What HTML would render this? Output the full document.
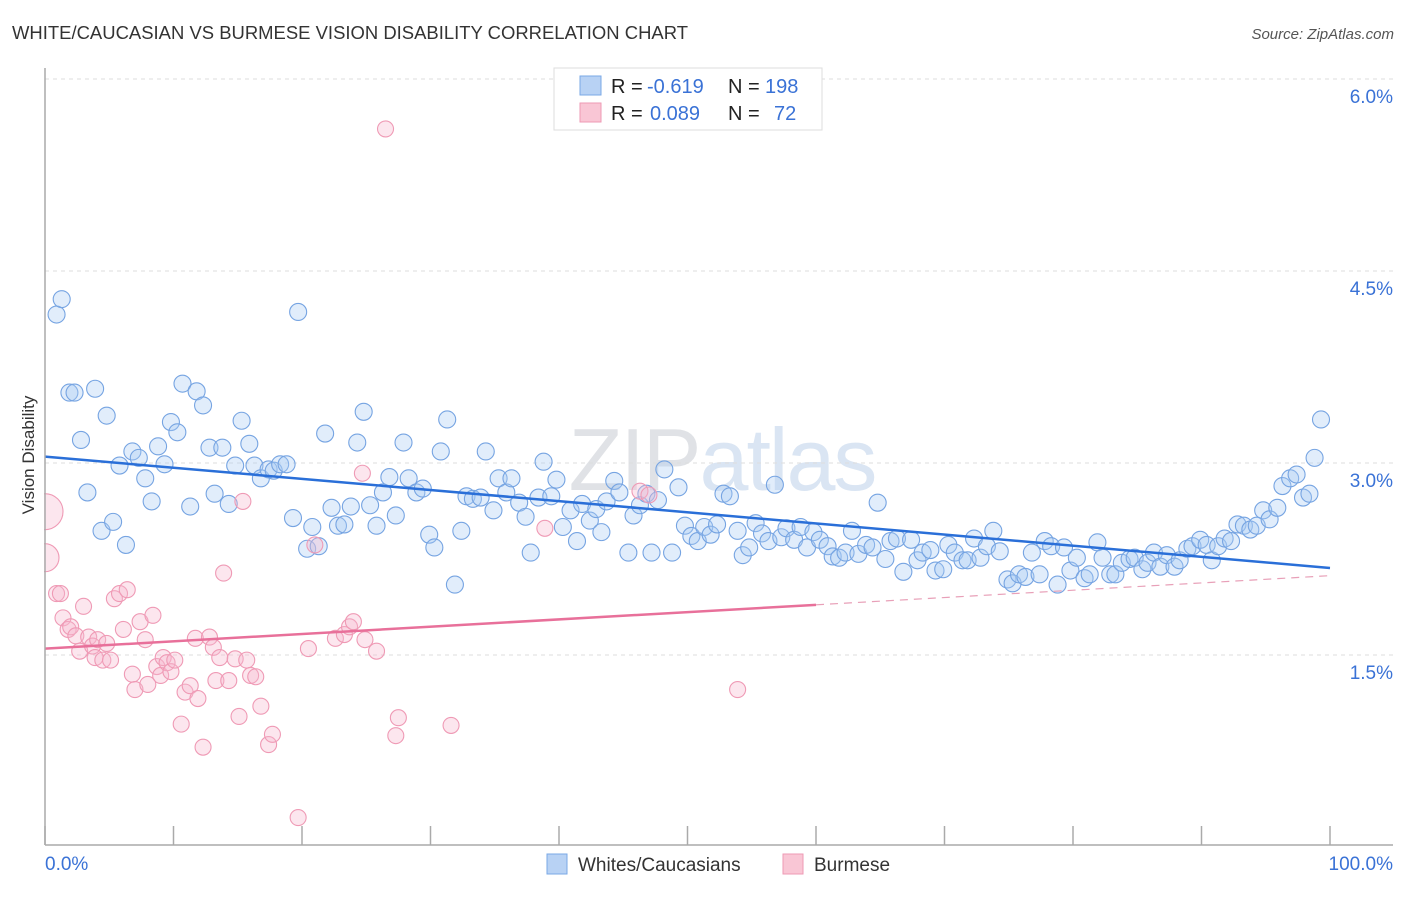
<!DOCTYPE html>
<html><head><meta charset="utf-8"><style>
body{margin:0;background:#fff;font-family:"Liberation Sans",sans-serif;}
svg text{font-family:"Liberation Sans",sans-serif;}
</style></head><body>
<svg id="chart" width="1406" height="892" xmlns="http://www.w3.org/2000/svg">
<text x="12" y="39" font-size="18" fill="#333" textLength="676" lengthAdjust="spacingAndGlyphs">WHITE/CAUCASIAN VS BURMESE VISION DISABILITY CORRELATION CHART</text>
<text x="1394" y="39" font-size="15" fill="#555" text-anchor="end" font-style="italic">Source: ZipAtlas.com</text>
<text x="722" y="490" font-size="88" fill="#e4e8ee" text-anchor="middle" font-family="Liberation Serif" letter-spacing="-2"><tspan fill="#e0e2e6">ZIP</tspan><tspan fill="#dae5f3" font-family="Liberation Sans">atlas</tspan></text>
<g id="grid"></g>
<g id="marks"></g>
<rect x="0" y="60" width="44" height="790" fill="#fff"/>
<g id="axes"></g>
<text transform="translate(34,455) rotate(-90)" font-size="17" fill="#333" text-anchor="middle">Vision Disability</text>
<g>
<rect x="554" y="68" width="268" height="62" fill="#fff" stroke="#ddd"/>
<rect x="580" y="76" width="21" height="19" fill="#b8d2f4" stroke="#7aa8e6"/>
<rect x="580" y="103" width="21" height="19" fill="#f9c6d5" stroke="#ee9ab4"/>
<text y="93" font-size="20" fill="#222"><tspan x="611">R =</tspan><tspan x="647" fill="#3a72d6">-0.619</tspan><tspan x="728">N =</tspan><tspan x="765" fill="#3a72d6">198</tspan></text>
<text y="120" font-size="20" fill="#222"><tspan x="611">R =</tspan><tspan x="650" fill="#3a72d6">0.089</tspan><tspan x="728">N =</tspan><tspan x="774" fill="#3a72d6">72</tspan></text>
</g>
<g>
<rect x="547" y="854" width="20" height="20" fill="#b8d2f4" stroke="#7aa8e6"/>
<text x="578" y="871" font-size="19" fill="#333">Whites/Caucasians</text>
<rect x="783" y="854" width="20" height="20" fill="#f9c6d5" stroke="#ee9ab4"/>
<text x="814" y="871" font-size="19" fill="#333">Burmese</text>
</g>
</svg>
<script>
const yTicks=[1.5,3.0,4.5,6.0];
const yTickLabels=["1.5%","3.0%","4.5%","6.0%"];
const xTicks=[0,10,20,30,40,50,60,70,80,90,100];
const blueX=[0.9,1.3,1.9,2.3,3.9,2.8,3.3,4.4,4.8,5.3,5.8,6.3,6.8,7.3,7.8,8.3,8.8,9.3,9.8,10.3,10.7,11.3,11.8,12.3,12.8,13.2,13.8,14.3,14.8,15.3,15.9,16.3,16.8,17.4,17.8,18.3,18.8,19.3,19.7,20.4,20.8,21.3,21.8,22.3,22.8,23.3,23.8,24.3,24.8,25.3,25.8,26.3,26.8,27.3,27.9,28.3,28.9,29.4,29.9,30.3,30.8,31.3,31.9,32.4,32.8,33.3,33.9,34.3,34.9,35.3,35.9,36.3,36.9,37.4,37.8,38.4,38.8,39.4,39.8,40.3,40.9,41.4,41.8,42.4,42.9,43.3,43.7,44.3,44.7,45.4,45.8,46.3,46.8,47.2,47.7,48.2,48.8,49.3,49.8,50.3,50.8,51.3,51.8,52.3,52.8,53.3,53.9,54.3,54.8,55.3,55.8,56.3,56.8,57.3,57.7,58.3,58.8,59.3,59.8,60.3,60.9,61.3,61.8,62.3,62.8,63.3,63.9,64.4,64.8,65.4,65.8,66.3,66.8,67.4,67.9,68.3,68.9,69.3,69.9,70.3,70.8,71.4,71.8,72.3,72.8,73.3,73.8,74.3,74.9,75.3,75.8,76.3,76.8,77.4,77.8,78.3,78.8,79.3,79.8,80.3,80.9,81.3,81.9,82.3,82.9,83.3,83.8,84.4,84.8,85.4,85.8,86.3,86.8,87.3,87.9,88.3,88.9,89.3,89.9,90.4,90.8,91.3,91.8,92.3,92.8,93.3,93.8,94.3,94.8,95.3,95.9,96.3,96.9,97.4,97.9,98.4,98.8,99.3];
const blueY=[4.16,4.28,3.55,3.55,3.58,3.18,2.77,2.47,3.37,2.54,2.98,2.36,3.09,3.04,2.88,2.70,3.13,2.99,3.32,3.24,3.62,2.66,3.56,3.45,3.12,2.76,3.12,2.68,2.98,3.33,3.15,2.98,2.88,2.95,2.94,2.99,2.99,2.57,4.18,2.33,2.50,2.35,3.23,2.65,2.51,2.52,2.66,3.16,3.40,2.67,2.51,2.77,2.89,2.59,3.16,2.88,2.77,2.80,2.44,2.34,3.09,3.34,2.05,2.47,2.74,2.72,2.73,3.09,2.63,2.88,2.77,2.88,2.69,2.58,2.30,2.73,3.01,2.74,2.87,2.50,2.63,2.39,2.68,2.55,2.64,2.46,2.70,2.86,2.77,2.30,2.59,2.67,2.76,2.30,2.71,2.95,2.30,2.81,2.51,2.43,2.39,2.50,2.44,2.52,2.76,2.74,2.47,2.28,2.34,2.53,2.45,2.39,2.83,2.42,2.49,2.40,2.50,2.34,2.46,2.40,2.35,2.27,2.26,2.30,2.47,2.29,2.36,2.34,2.69,2.25,2.39,2.41,2.15,2.40,2.24,2.30,2.32,2.16,2.17,2.36,2.30,2.24,2.24,2.41,2.26,2.35,2.47,2.31,2.09,2.06,2.13,2.11,2.30,2.13,2.39,2.35,2.05,2.34,2.16,2.26,2.10,2.13,2.38,2.26,2.13,2.13,2.22,2.25,2.26,2.17,2.22,2.30,2.19,2.28,2.19,2.24,2.33,2.35,2.40,2.36,2.24,2.35,2.41,2.39,2.52,2.51,2.48,2.51,2.63,2.56,2.65,2.82,2.88,2.91,2.73,2.76,3.04,3.34];
const pinkX=[26.5,0,0,0.9,1.2,1.4,1.8,2.0,2.4,2.7,3.0,3.4,3.7,3.9,4.1,4.5,4.8,5.1,5.4,5.8,6.1,6.4,6.8,7.0,7.4,7.8,8.0,8.4,8.7,9.0,9.2,9.5,9.8,10.1,10.6,10.9,11.3,11.7,11.9,12.3,12.8,13.1,13.3,13.6,13.9,14.3,14.8,15.1,15.4,15.7,16.0,16.4,16.8,17.4,17.7,19.7,20.5,21.0,22.6,23.3,23.7,24.0,24.7,24.9,25.8,27.3,27.5,31.6,38.9,46.3,47.0,53.9];
const pinkY=[5.61,2.62,2.26,1.98,1.98,1.79,1.70,1.72,1.65,1.53,1.88,1.64,1.57,1.48,1.62,1.46,1.59,1.46,1.94,1.98,1.70,2.01,1.35,1.23,1.76,1.62,1.27,1.81,1.41,1.34,1.48,1.44,1.37,1.46,0.96,1.21,1.26,1.63,1.16,0.78,1.64,1.56,1.30,1.48,2.14,1.30,1.47,1.02,2.70,1.46,1.34,1.33,1.10,0.80,0.88,0.23,1.55,2.36,1.63,1.66,1.72,1.76,2.92,1.62,1.53,0.87,1.01,0.95,2.49,2.78,2.75,1.23];
const pinkR=[8,18,14,8,8,8,8,8,8,8,8,8,8,8,8,8,8,8,8,8,8,8,8,8,8,8,8,8,8,8,8,8,8,8,8,8,8,8,8,8,8,8,8,8,8,8,8,8,8,8,8,8,8,8,8,8,8,8,8,8,8,8,8,8,8,8,8,8,8,8,8,8];
const blueTrend=[3.05,2.18];
const pinkTrend=[1.55,2.12];
const pinkSolidEnd=60;

const NS="http://www.w3.org/2000/svg";
function sx(v){return 45+v*12.85;}
function sy(v){return 847-v*128;}
function mk(tag,attrs,parent){const e=document.createElementNS(NS,tag);for(const k in attrs)e.setAttribute(k,attrs[k]);parent.appendChild(e);return e;}
const grid=document.getElementById('grid'),axes=document.getElementById('axes'),marks=document.getElementById('marks');
yTicks.forEach((t,i)=>{
  const l=mk('line',{x1:45,x2:1393,y1:sy(t),y2:sy(t),stroke:'#ddd','stroke-dasharray':'4,4'},grid);
  
  
  const tx=mk('text',{x:1393,y:sy(t)+24,'font-size':19,fill:'#3a72d6','text-anchor':'end'},axes);
  tx.textContent=yTickLabels[i];
  
  
});
const ya=mk('line',{x1:45,x2:45,y1:68,y2:845,stroke:'#aaa','stroke-width':1.5},axes);


const xa=mk('line',{x1:45,x2:1393,y1:845,y2:845,stroke:'#aaa','stroke-width':1.5},axes);


xTicks.forEach(t=>{
  const l=mk('line',{x1:sx(t),x2:sx(t),y1:826,y2:845,stroke:'#aaa','stroke-width':1.5},axes);
  
  
});
const xl0=mk('text',{x:45,y:870,'font-size':19,fill:'#3a72d6'},axes);xl0.textContent='0.0%';


const xl1=mk('text',{x:1393,y:870,'font-size':19,fill:'#3a72d6','text-anchor':'end'},axes);xl1.textContent='100.0%';



blueX.forEach((x,i)=>{
  const c=mk('circle',{cx:sx(x),cy:sy(blueY[i]),r:8.5,fill:'rgba(170,202,244,0.35)',stroke:'#76a4e2','stroke-width':1.1},marks);
  
  
});
pinkX.forEach((x,i)=>{
  const c=mk('circle',{cx:sx(x),cy:sy(pinkY[i]),r:pinkR[i],fill:'rgba(247,184,205,0.35)',stroke:'#ef9ab5','stroke-width':1.1},marks);
  
  
});
const bt=mk('line',{x1:sx(0),y1:sy(blueTrend[0]),x2:sx(100),y2:sy(blueTrend[1]),stroke:'#2a6fd8','stroke-width':2.5},marks);


const pm=pinkTrend[0]+(pinkTrend[1]-pinkTrend[0])*pinkSolidEnd/100;
const pt=mk('line',{x1:sx(0),y1:sy(pinkTrend[0]),x2:sx(pinkSolidEnd),y2:sy(pm),stroke:'#e8709a','stroke-width':2.5},marks);


const pd=mk('line',{x1:sx(pinkSolidEnd),y1:sy(pm),x2:sx(100),y2:sy(pinkTrend[1]),stroke:'#e8a0b8','stroke-width':1.2,'stroke-dasharray':'8,6'},marks);


</script>
</body></html>
